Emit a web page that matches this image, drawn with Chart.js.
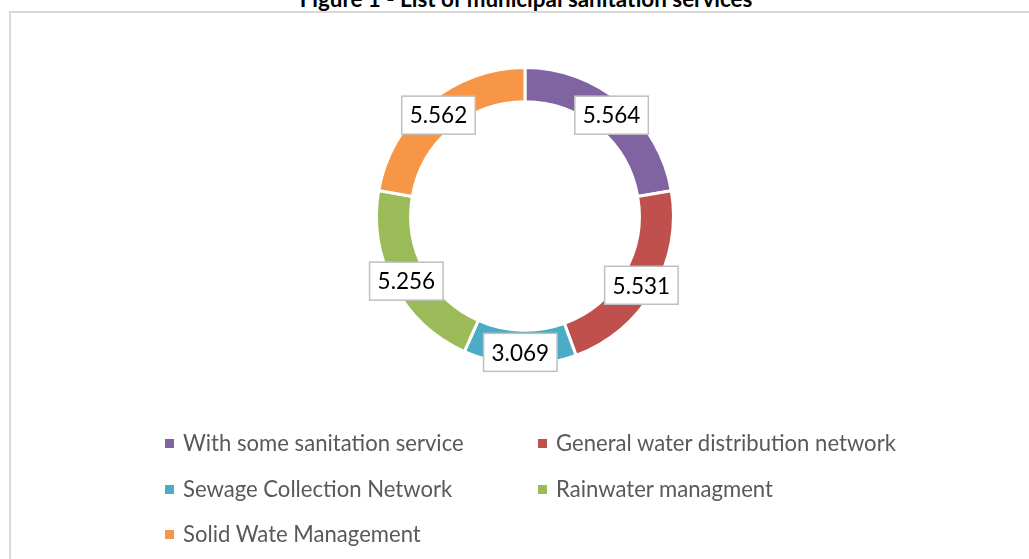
<!DOCTYPE html>
<html>
<head>
<meta charset="utf-8">
<script src="https://cdn.jsdelivr.net/npm/chart.js@4.4.1/dist/chart.umd.min.js"></script>
<style>
  html, body { margin: 0; padding: 0; background: #fff; overflow: hidden; }
  #wrap { position: relative; width: 1029px; height: 559px; font-family: Lato, "Noto Sans", sans-serif; }
  #frame { position: absolute; left: 9px; top: 11px; width: 1100px; height: 600px;
           border-left: 2px solid #d9d9d9; border-top: 2px solid #d9d9d9; }
  #title { position: absolute; left: 0; width: 1052px; top: -15px; text-align: center;
           font-weight: bold; font-size: 22.4px; color: #000; white-space: nowrap; }
  #chart { position: absolute; left: 0; top: 0; }
  .item { position: absolute; font-size: 22.1px; color: #595959; white-space: nowrap; line-height: 24px; }
  .item i { display: inline-block; width: 9px; height: 9px; margin-right: 9px; vertical-align: 3px; }
</style>
</head>
<body>
<div id="wrap">
  <div id="frame"></div>
  <div id="title">Figure 1 - List of municipal sanitation services</div>
  <canvas id="chart" width="1029" height="559"></canvas>
  <div id="legend"></div>
</div>
<script>
// values as printed on the chart (thousands separator "." -> 5.564 = 5564)
const categories = [
  'With some sanitation service',
  'General water distribution network',
  'Sewage Collection Network',
  'Rainwater managment',
  'Solid Wate Management'
];
const values = [5564, 5531, 3069, 5256, 5562];
const valueLabels = ['5.564', '5.531', '3.069', '5.256', '5.562'];
const colors = ['#8064A2', '#C0504D', '#4BACC6', '#9BBB59', '#F79646'];

// boxed value labels drawn at the middle of each ring segment
const boxLabels = {
  id: 'boxLabels',
  afterDatasetsDraw(chart) {
    const ctx = chart.ctx;
    const meta = chart.getDatasetMeta(0);
    ctx.save();
    ctx.font = '22.5px Lato, "Noto Sans", sans-serif';
    ctx.textAlign = 'center';
    ctx.textBaseline = 'middle';
    meta.data.forEach((arc, i) => {
      const p = arc.getProps(['x', 'y', 'startAngle', 'endAngle', 'innerRadius', 'outerRadius'], true);
      const mid = (p.startAngle + p.endAngle) / 2;
      const r = (p.innerRadius + p.outerRadius) / 2 + 3;
      const cx = p.x + Math.cos(mid) * r;
      const cy = p.y + Math.sin(mid) * r + 2;
      const w = ctx.measureText(valueLabels[i]).width + 16;
      const h = 38;
      ctx.fillStyle = '#fff';
      ctx.fillRect(cx - w / 2, cy - h / 2, w, h);
      ctx.strokeStyle = '#bfbfbf';
      ctx.lineWidth = 1.5;
      ctx.strokeRect(cx - w / 2, cy - h / 2, w, h);
      ctx.fillStyle = '#000';
      ctx.fillText(valueLabels[i], cx, cy + 1);
    });
    ctx.restore();
  }
};

new Chart(document.getElementById('chart'), {
  type: 'doughnut',
  data: {
    labels: categories,
    datasets: [{
      data: values,
      backgroundColor: colors,
      borderColor: '#fff',
      borderWidth: 3
    }]
  },
  options: {
    responsive: false,
    animation: false,
    cutout: '77%',
    layout: { padding: { left: 375, right: 354, top: 66, bottom: 193 } },
    plugins: { legend: { display: false }, tooltip: { enabled: false } }
  },
  plugins: [boxLabels]
});

// legend, two columns like the original
const legend = document.getElementById('legend');
const colX = [165, 538];
const rowY = [431, 477, 522];
categories.forEach((name, i) => {
  const d = document.createElement('div');
  d.className = 'item';
  d.style.left = colX[i % 2] + 'px';
  d.style.top = rowY[Math.floor(i / 2)] + 'px';
  d.innerHTML = '<i style="background:' + colors[i] + '"></i>' + name;
  legend.appendChild(d);
});
</script>
</body>
</html>
